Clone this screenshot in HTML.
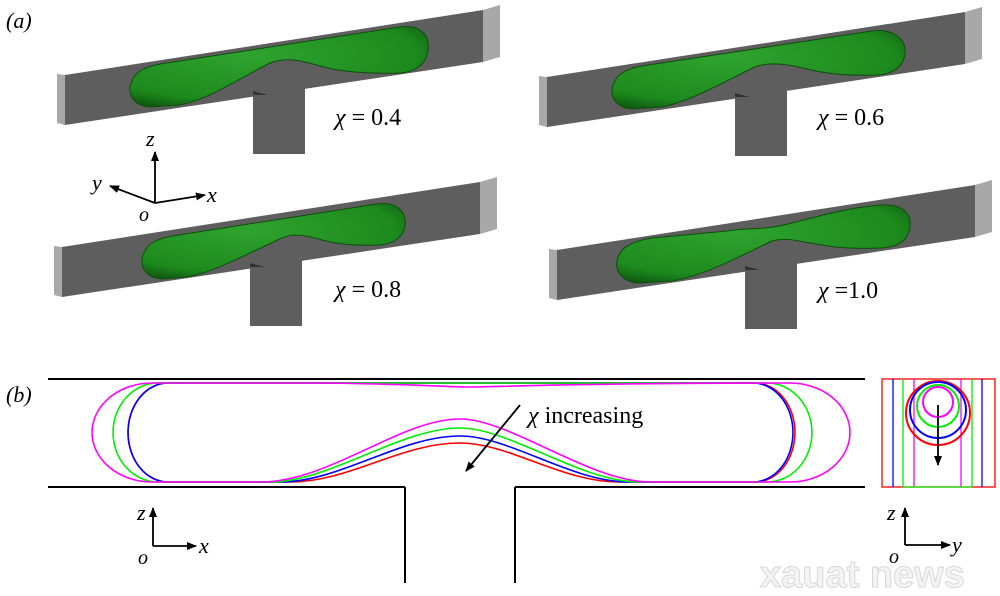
<!DOCTYPE html>
<html><head><meta charset="utf-8"><style>
body{margin:0;background:#fff;width:1000px;height:591px;overflow:hidden}
</style></head><body>
<svg width="1000" height="591" viewBox="0 0 1000 591" xmlns="http://www.w3.org/2000/svg" font-family="Liberation Serif, serif">
<defs>
<radialGradient id="g" cx="0.4" cy="0.35" r="0.75">
<stop offset="0" stop-color="#2fa32f"/><stop offset="0.75" stop-color="#1d8a1d"/><stop offset="1" stop-color="#0d4f0d"/>
</radialGradient>
<marker id="ah" markerWidth="10" markerHeight="8" refX="9" refY="4" orient="auto" markerUnits="userSpaceOnUse">
<path d="M0,0 L10,4 L0,8 Z" fill="#000"/></marker>
<g id="panel">
<polygon points="57,74 65,75 65,125 57,123" fill="#a8a8a8"/>
<polygon points="483,10 500,5 500,57 483,62" fill="#a8a8a8"/>
<polygon points="65,75 483,10 483,62 65,125" fill="#5e5e5e"/>
<rect x="253" y="88" width="52" height="66" fill="#5e5e5e"/>
<polygon points="253,91 268,95 253,95" fill="#333"/>
</g>
</defs>
<text x="6" y="28" font-size="22" font-style="italic" font-family="Liberation Serif, serif">(a)</text>
<text x="6" y="402" font-size="22" font-style="italic" font-family="Liberation Serif, serif">(b)</text>

<use href="#panel"/>
<path d="M150,107 C134,106 127,95 131,83 C135,71 145,67 160,64 L400,27 C420,24 430,35 428,50 C426,65 415,72 400,73 C370,74 340,72 320,66 C300,60 285,57 270,63 C240,78 210,99 180,105 Z" fill="url(#g)" stroke="#0d4f0d" stroke-width="1"/>
<text x="335" y="125" font-size="24" font-family="Liberation Serif, serif"><tspan font-style="italic">χ</tspan> = 0.4</text>

<g transform="translate(482,2)"><use href="#panel"/>
<path d="M150,107 C134,106 127,95 131,83 C135,71 145,67 160,64 L390,29 C412,26 425,38 423,52 C421,66 410,72 395,73 C370,74 345,72 325,67 C305,62 290,60 275,64 C245,78 210,99 180,105 Z" fill="url(#g)" stroke="#0d4f0d" stroke-width="1"/></g>
<text x="818" y="125" font-size="24" font-family="Liberation Serif, serif"><tspan font-style="italic">χ</tspan> = 0.6</text>

<g transform="translate(-3,172)"><use href="#panel"/>
<path d="M165,107 C149,106 142,95 146,83 C150,71 160,67 175,64 L380,32 C400,29 410,40 408,54 C406,66 396,72 382,73 C360,74 340,72 325,68 C305,62 295,62 285,66 C250,82 215,101 190,105 Z" fill="url(#g)" stroke="#0d4f0d" stroke-width="1"/></g>
<text x="335" y="297" font-size="24" font-family="Liberation Serif, serif"><tspan font-style="italic">χ</tspan> = 0.8</text>

<g transform="translate(492,175)"><use href="#panel"/>
<path d="M145,108 C128,106 122,94 126,82 C130,71 142,66 160,63 L235,56 C260,52 270,56 300,48 C330,40 360,32 390,30 C410,29 420,38 418,52 C416,66 405,72 390,73 C365,74 345,73 330,70 C305,66 295,62 280,66 C250,80 215,100 180,106 Z" fill="url(#g)" stroke="#0d4f0d" stroke-width="1"/></g>
<text x="818" y="298" font-size="24" font-family="Liberation Serif, serif"><tspan font-style="italic">χ</tspan> =1.0</text>

<g stroke="#000" stroke-width="1.8" fill="none">
<line x1="155" y1="203" x2="155" y2="152" marker-end="url(#ah)"/>
<line x1="155" y1="203" x2="205" y2="195" marker-end="url(#ah)"/>
<line x1="155" y1="203" x2="110" y2="186" marker-end="url(#ah)"/>
</g>
<g font-style="italic" font-family="Liberation Serif, serif">
<text x="146" y="146" font-size="22">z</text>
<text x="207" y="202" font-size="22">x</text>
<text x="92" y="190" font-size="22">y</text>
<text x="139" y="221" font-size="20">o</text>
</g>

<g stroke="#000" stroke-width="2" fill="none">
<line x1="48" y1="379" x2="865" y2="379"/>
<line x1="48" y1="487" x2="405" y2="487"/>
<line x1="515" y1="487" x2="865" y2="487"/>
<line x1="405" y1="487" x2="405" y2="583"/>
<line x1="515" y1="487" x2="515" y2="583"/>
</g>
<g fill="none" stroke-width="1.6">
<path d="M168,383 L755,383 A40,49.5 0 0 1 755,482 L620,482 C560,482 510,443 460,443 C400,443 350,482 290,482 L168,482 A40,49.5 0 0 1 168,383 Z" stroke="#f00"/>
<path d="M168,383 L753,383 A40,49.5 0 0 1 753,482 L630,482 C570,482 510,436 460,436 C400,436 340,482 280,482 L168,482 A40,49.5 0 0 1 168,383 Z" stroke="#00f"/>
<path d="M158,383 L767,383 A45,49.5 0 0 1 767,482 L640,482 C580,482 510,428 460,428 C400,428 330,482 270,482 L158,482 A45,49.5 0 0 1 158,383 Z" stroke="#0e0"/>
<path d="M152,383 L300,383 C400,383 440,387 470,387 C500,387 560,383 790,383 A60,49.5 0 0 1 790,482 L650,482 C590,482 510,419 460,419 C400,419 330,482 260,482 L152,482 A60,49.5 0 0 1 152,383 Z" stroke="#f0f"/>
</g>
<line x1="520" y1="405" x2="466" y2="471" stroke="#000" stroke-width="1.8" marker-end="url(#ah)"/>
<text x="528" y="423" font-size="24" font-family="Liberation Serif, serif"><tspan font-style="italic">χ</tspan> increasing</text>

<g fill="none" stroke-width="1.3">
<rect x="882" y="379" width="113" height="108" stroke="#f00"/>
<line x1="893" y1="379" x2="893" y2="487" stroke="#00f"/>
<line x1="982" y1="379" x2="982" y2="487" stroke="#00f"/>
<line x1="903" y1="379" x2="903" y2="487" stroke="#0e0"/>
<line x1="972" y1="379" x2="972" y2="487" stroke="#0e0"/>
<line x1="914" y1="379" x2="914" y2="487" stroke="#f0f"/>
<line x1="961" y1="379" x2="961" y2="487" stroke="#f0f"/>
<line x1="903" y1="487" x2="972" y2="487" stroke="#0e0"/>
<circle cx="938" cy="413" r="32" stroke="#f00" stroke-width="2"/>
<circle cx="938" cy="410" r="28" stroke="#00f" stroke-width="2"/>
<circle cx="938" cy="406" r="21" stroke="#0e0" stroke-width="2"/>
<circle cx="938" cy="402" r="15" stroke="#f0f" stroke-width="2"/>
</g>
<line x1="938" y1="405" x2="938" y2="465" stroke="#000" stroke-width="1.8" marker-end="url(#ah)"/>

<g stroke="#000" stroke-width="1.8" fill="none">
<line x1="153" y1="546" x2="153" y2="508" marker-end="url(#ah)"/>
<line x1="153" y1="546" x2="196" y2="546" marker-end="url(#ah)"/>
<line x1="905" y1="545" x2="905" y2="508" marker-end="url(#ah)"/>
<line x1="905" y1="545" x2="950" y2="545" marker-end="url(#ah)"/>
</g>
<g font-style="italic" font-family="Liberation Serif, serif">
<text x="137" y="520" font-size="22">z</text>
<text x="199" y="553" font-size="22">x</text>
<text x="138" y="564" font-size="20">o</text>
<text x="887" y="520" font-size="22">z</text>
<text x="952" y="552" font-size="22">y</text>
<text x="889" y="563" font-size="20">o</text>
</g>

<text x="760" y="587" font-size="38" font-weight="bold" fill="#f4f4f4" stroke="#d8d8d8" stroke-width="1" font-family="Liberation Sans, sans-serif">xauat news</text>
</svg>
</body></html>
